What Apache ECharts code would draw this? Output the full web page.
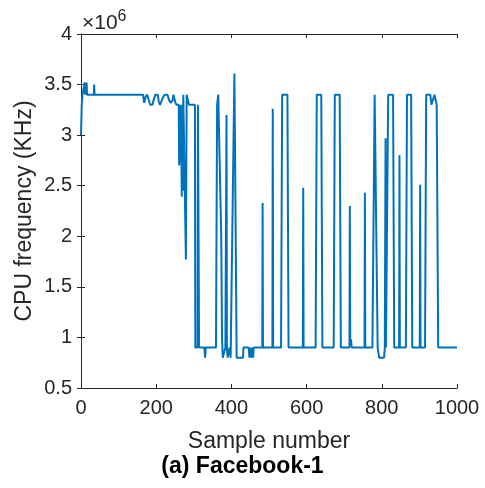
<!DOCTYPE html>
<html>
<head>
<meta charset="utf-8">
<script src="https://cdn.jsdelivr.net/npm/echarts@6/dist/echarts.min.js"></script>
<style>
  html, body { margin: 0; padding: 0; background: #fff; }
  #chart { width: 485px; height: 488px; }
</style>
</head>
<body>
<div id="chart"></div>
<script>
// sample number (x) and CPU frequency in units of 10^6 KHz (y)
const sampleIdx = [
  0, 2, 4, 9, 10, 11, 14, 15, 16, 34, 35, 36,
  165, 168, 172, 176, 180, 184, 190, 194, 198, 204, 207, 210, 215, 219, 223,
  230, 234, 238, 243, 246, 248, 251, 254,
  260, 261, 262, 264, 265, 266, 268, 269, 271, 272, 277, 279, 281, 286, 287,
  303, 304, 310, 311, 313, 314, 328, 330, 332, 359, 362, 365, 370, 373, 375,
  377, 381, 384, 386, 387, 388, 390, 393, 395, 398, 403, 408, 414, 431, 432,
  446, 448, 450, 453, 454, 455, 457, 458, 459, 482, 483, 484, 509, 510, 511,
  532, 535, 549, 552, 590, 591, 592, 624, 627, 639, 642, 672, 675, 688, 691,
  714, 715, 716, 718, 720, 754, 755, 756, 775, 781, 783, 789, 793, 806, 808,
  809, 810, 811, 814, 817, 830, 833, 846, 847, 848, 864, 867, 878, 881,
  901, 902, 903, 915, 918, 929, 932, 935, 940, 943, 946, 950, 1000
]
const freqE6 = [
  3.0, 3.3, 3.4, 3.4, 3.52, 3.4, 3.4, 3.52, 3.4, 3.4, 3.5, 3.4,
  3.4, 3.32, 3.38, 3.4, 3.35, 3.3, 3.3, 3.36, 3.4, 3.4, 3.33, 3.3, 3.3, 3.38, 3.4,
  3.4, 3.35, 3.32, 3.34, 3.4, 3.4, 3.32, 3.3,
  3.3, 2.7, 3.3, 3.3, 2.72, 3.3, 2.39, 3.3, 2.45, 3.4, 3.4, 1.77, 3.4, 3.4, 3.3,
  3.3, 0.9, 0.9, 3.3, 3.3, 0.9, 0.9, 0.8, 0.9, 0.9, 3.3, 3.4, 3.4, 2.0, 1.0,
  0.8, 0.8, 0.9, 0.9, 3.2, 0.9, 0.8, 0.8, 0.9, 0.8, 0.8, 3.61, 0.8, 0.8, 0.9,
  0.9, 0.8, 0.9, 0.9, 0.8, 0.9, 0.9, 0.8, 0.9, 0.9, 2.33, 0.9, 0.9, 3.26, 0.9,
  0.9, 3.4, 3.4, 0.9, 0.9, 2.48, 0.9, 0.9, 3.4, 3.4, 0.9, 0.9, 3.4, 3.4, 0.9,
  0.9, 2.3, 0.95, 0.98, 0.9, 0.9, 2.43, 0.9, 0.9, 3.4, 3.4, 0.9, 0.8, 0.8, 0.9,
  0.9, 2.97, 0.9, 0.9, 3.4, 3.4, 0.9, 0.9, 2.8, 0.9, 0.9, 3.4, 3.4, 0.9,
  0.9, 2.51, 0.9, 0.9, 3.4, 3.4, 3.3, 3.3, 3.4, 3.4, 3.3, 0.9, 0.9
]
const xTicks = [0, 200, 400, 600, 800, 1000]
const yTicks = [0.5, 1, 1.5, 2, 2.5, 3, 3.5, 4]

const axisColor = '#262626'
const fontFamily = '"Liberation Sans", Arial, sans-serif'

const chart = echarts.init(document.getElementById('chart'))

const boxAxis = {
  axisLine: { show: true, lineStyle: { color: axisColor, width: 1 } },
  axisTick: { show: true, inside: true, length: 4, lineStyle: { color: axisColor } },
  splitLine: { show: false }
}

chart.setOption({
  animation: false,
  grid: { left: 81, right: 28, top: 34, bottom: 100 },
  title: [
    {
      text: '(a) Facebook-1',
      left: 'center',
      top: 450,
      textStyle: { fontFamily, fontSize: 23, fontWeight: 'bold', color: '#000' }
    },
    {
      // exponent label above the y axis
      text: '{a|×10}{s|6}',
      left: 77,
      top: 4,
      textStyle: {
        fontWeight: 'normal',
        rich: {
          a: { fontFamily, fontSize: 21, fontWeight: 'normal', color: axisColor, verticalAlign: 'bottom' },
          s: { fontFamily, fontSize: 16, fontWeight: 'normal', color: axisColor, verticalAlign: 'top', padding: [0, 0, 9, 0] }
        }
      }
    }
  ],
  xAxis: [
    Object.assign({
      type: 'value',
      min: xTicks[0],
      max: xTicks[xTicks.length - 1],
      interval: 200,
      name: 'Sample number',
      nameLocation: 'middle',
      nameGap: 42,
      nameMoveOverlap: false,
      nameTextStyle: { fontFamily, fontSize: 23, color: axisColor },
      axisLabel: { fontFamily, fontSize: 20, color: axisColor, margin: 10, formatter: v => String(v) }
    }, boxAxis),
    Object.assign({
      type: 'value', position: 'top',
      min: 0, max: 1000, interval: 200,
      axisLabel: { show: false }
    }, boxAxis)
  ],
  yAxis: [
    Object.assign({
      type: 'value',
      min: yTicks[0],
      max: yTicks[yTicks.length - 1],
      interval: 0.5,
      name: 'CPU frequency (KHz)',
      nameLocation: 'middle',
      nameGap: 45,
      nameMoveOverlap: false,
      nameTextStyle: { fontFamily, fontSize: 23, color: axisColor },
      axisLabel: { fontFamily, fontSize: 20, color: axisColor, margin: 9 }
    }, boxAxis),
    Object.assign({
      type: 'value', position: 'right',
      min: 0.5, max: 4, interval: 0.5,
      axisLabel: { show: false }
    }, boxAxis)
  ],
  series: [{
    type: 'line',
    data: sampleIdx.map((x, i) => [x, freqE6[i]]),
    showSymbol: false,
    lineStyle: { color: '#0072BD', width: 2 },
    itemStyle: { color: '#0072BD' }
  }]
})
</script>
</body>
</html>
